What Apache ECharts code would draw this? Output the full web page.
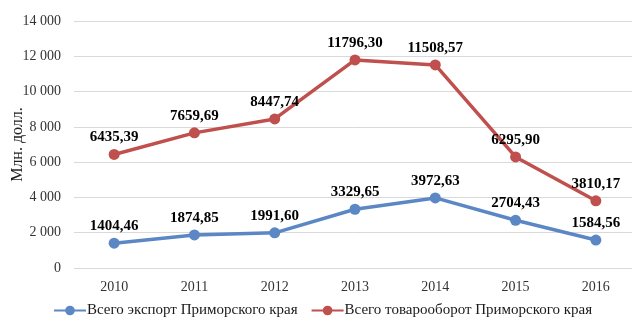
<!DOCTYPE html>
<html>
<head>
<meta charset="utf-8">
<script src="https://cdn.jsdelivr.net/npm/echarts@6/dist/echarts.min.js"></script>
<style>
  html, body { margin: 0; padding: 0; background: #fff; }
  #chart { width: 632px; height: 321px; }
</style>
</head>
<body>
<div id="chart"></div>
<script>
const years = ['2010', '2011', '2012', '2013', '2014', '2015', '2016'];
const exportTotal = [1404.46, 1874.85, 1991.60, 3329.65, 3972.63, 2704.43, 1584.56];
const tradeTotal = [6435.39, 7659.69, 8447.74, 11796.30, 11508.57, 6295.90, 3810.17];
const seriesNames = ['Всего экспорт Приморского края', 'Всего товарооборот Приморского края'];
const axisTitle = 'Млн. долл.';

const serif = '"Liberation Serif", "Times New Roman", serif';
const fmtThousands = v => String(v).replace(/\B(?=(\d{3})+(?!\d))/g, ' ');
const fmtDecimal = v => v.toFixed(2).replace('.', ',');

const chart = echarts.init(document.getElementById('chart'), null, { renderer: 'canvas' });

function lineSeries(name, data, color) {
  return {
    name, type: 'line', data,
    symbol: 'circle', symbolSize: 11,
    lineStyle: { color, width: 3.5 },
    itemStyle: { color },
    label: {
      show: true, position: 'top', distance: 4,
      fontFamily: serif, fontSize: 15, fontWeight: 'bold', color: '#000',
      formatter: p => fmtDecimal(p.value)
    },
    animation: false
  };
}

chart.setOption({
  animation: false,
  grid: { left: 74, right: -4, top: 21, bottom: 53, containLabel: false, outerBoundsMode: 'none' },
  legend: {
    top: 298, left: 48,
    itemWidth: 32, itemHeight: 12, itemGap: 13,
    textStyle: { fontFamily: serif, fontSize: 15, color: '#1a1a1a', padding: [0, 0, 0, -4] },
    data: seriesNames
  },
  xAxis: {
    type: 'category', data: years, boundaryGap: true,
    axisLine: { show: false }, axisTick: { show: false },
    axisLabel: { fontFamily: serif, fontSize: 14, color: '#333', margin: 12 }
  },
  yAxis: {
    type: 'value', min: 0, max: 14000, interval: 2000,
    name: axisTitle, nameLocation: 'middle', nameGap: 48, nameRotate: 90,
    nameMoveOverlap: false,
    nameTextStyle: { fontFamily: serif, fontSize: 16, color: '#222' },
    axisLine: { show: false }, axisTick: { show: false },
    axisLabel: { fontFamily: serif, fontSize: 14, color: '#333', margin: 13, formatter: fmtThousands },
    splitLine: { lineStyle: { color: '#d9d9d9', width: 1 } }
  },
  series: [
    lineSeries(seriesNames[0], exportTotal, '#5b87c4'),
    lineSeries(seriesNames[1], tradeTotal, '#c0504d')
  ]
});
</script>
</body>
</html>
